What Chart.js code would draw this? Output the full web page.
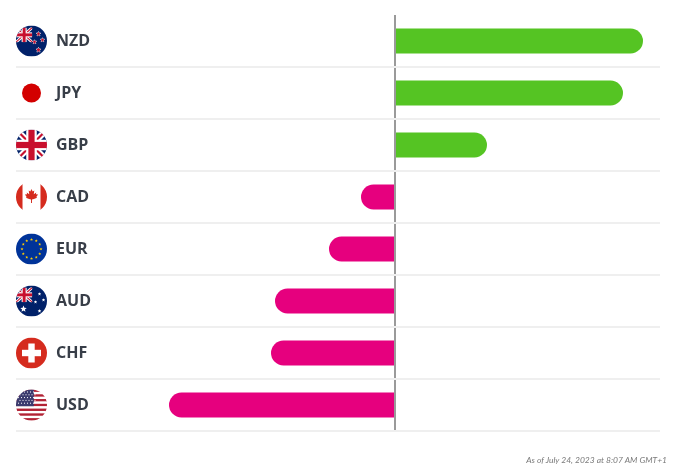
<!DOCTYPE html>
<html lang="en">
<head>
    <meta charset="UTF-8">
    <meta name="viewport" content="width=device-width, initial-scale=1.0">
    <title>Currency strength</title>
    <script src="https://cdn.jsdelivr.net/npm/chart.js"></script>
    <style>
        body { margin: 0; background: #fff; }
        #wrap { position: relative; width: 680px; height: 471px; }
        #nota {
            position: absolute; right: 13px; top: 455px;
            font-family: Lato, "Open Sans", sans-serif; font-style: italic;
            font-size: 8.5px; color: #7a7a7a;
        }
    </style>
</head>
<body>
    <div id="wrap">
        <canvas id="grafico"></canvas>
        <div id="nota">As of July 24, 2023 at 8:07 AM GMT+1</div>
    </div>

    <script>
        // Dados (valores estimados pelo comprimento das barras)
        const moedas = ['NZD', 'JPY', 'GBP', 'CAD', 'EUR', 'AUD', 'CHF', 'USD'];
        const forca = [0.62, 0.57, 0.23, -0.085, -0.165, -0.30, -0.31, -0.565];
        const eixoMin = -0.9475;
        const eixoMax = 0.6625;

        const verde = '#55c423';
        const rosa = '#e6007e';

        // estrela de 5 pontas
        function estrela(ctx, x, y, r1, r2, cor, borda) {
            ctx.beginPath();
            for (let i = 0; i < 10; i++) {
                const r = i % 2 === 0 ? r1 : r2;
                const a = -Math.PI / 2 + i * Math.PI / 5;
                ctx.lineTo(x + r * Math.cos(a), y + r * Math.sin(a));
            }
            ctx.closePath();
            if (borda) { ctx.strokeStyle = borda; ctx.lineWidth = 0.8; ctx.stroke(); }
            ctx.fillStyle = cor;
            ctx.fill();
        }

        // bandeira do Reino Unido num retângulo
        function unionJack(ctx, x, y, w, h) {
            ctx.save();
            ctx.beginPath();
            ctx.rect(x, y, w, h);
            ctx.clip();
            ctx.fillStyle = '#012169';
            ctx.fillRect(x, y, w, h);
            ctx.beginPath();
            ctx.moveTo(x, y); ctx.lineTo(x + w, y + h);
            ctx.moveTo(x + w, y); ctx.lineTo(x, y + h);
            ctx.strokeStyle = '#fff'; ctx.lineWidth = h * 0.2; ctx.stroke();
            ctx.strokeStyle = '#c8102e'; ctx.lineWidth = h * 0.07; ctx.stroke();
            ctx.fillStyle = '#fff';
            ctx.fillRect(x + w / 2 - h * 0.17, y, h * 0.34, h);
            ctx.fillRect(x, y + h / 2 - h * 0.17, w, h * 0.34);
            ctx.fillStyle = '#c8102e';
            ctx.fillRect(x + w / 2 - h * 0.1, y, h * 0.2, h);
            ctx.fillRect(x, y + h / 2 - h * 0.1, w, h * 0.2);
            ctx.restore();
        }

        const folha = [[0, -1], [0.15, -0.7], [0.35, -0.8], [0.28, -0.35], [0.6, -0.55], [0.55, -0.35], [0.82, -0.3],
            [0.6, 0], [0.7, 0.1], [0.3, 0.25], [0.06, 0.3], [0.06, 0.75], [-0.06, 0.75], [-0.06, 0.3], [-0.3, 0.25],
            [-0.7, 0.1], [-0.6, 0], [-0.82, -0.3], [-0.55, -0.35], [-0.6, -0.55], [-0.28, -0.35], [-0.35, -0.8], [-0.15, -0.7]];

        const bandeiras = {
            NZD(ctx, cx, cy, r) {
                ctx.fillStyle = '#012169'; ctx.fillRect(cx - r, cy - r, 2 * r, 2 * r);
                unionJack(ctx, cx - r, cy - r + 2, r * 1.05, r * 0.95);
                estrela(ctx, cx + 7, cy - 7, 2.4, 1, '#c8102e', '#fff');
                estrela(ctx, cx + 11, cy - 1, 2.2, 0.9, '#c8102e', '#fff');
                estrela(ctx, cx + 3, cy + 1, 2.2, 0.9, '#c8102e', '#fff');
                estrela(ctx, cx + 7, cy + 9, 2.6, 1.1, '#c8102e', '#fff');
            },
            JPY(ctx, cx, cy, r) {
                ctx.fillStyle = '#fff'; ctx.fillRect(cx - r, cy - r, 2 * r, 2 * r);
                ctx.beginPath(); ctx.arc(cx, cy, 9.5, 0, Math.PI * 2);
                ctx.fillStyle = '#d30000'; ctx.fill();
            },
            GBP(ctx, cx, cy, r) {
                unionJack(ctx, cx - r, cy - r, 2 * r, 2 * r);
            },
            CAD(ctx, cx, cy, r) {
                ctx.fillStyle = '#fff'; ctx.fillRect(cx - r, cy - r, 2 * r, 2 * r);
                ctx.fillStyle = '#d52b1e';
                ctx.fillRect(cx - r, cy - r, r * 0.42, 2 * r);
                ctx.fillRect(cx + r * 0.58, cy - r, r * 0.42, 2 * r);
                ctx.beginPath();
                folha.forEach(p => ctx.lineTo(cx + p[0] * 8, cy + p[1] * 8));
                ctx.closePath(); ctx.fill();
            },
            EUR(ctx, cx, cy, r) {
                ctx.fillStyle = '#003399'; ctx.fillRect(cx - r, cy - r, 2 * r, 2 * r);
                for (let i = 0; i < 12; i++) {
                    const a = i * Math.PI / 6;
                    estrela(ctx, cx + 9.5 * Math.cos(a), cy + 9.5 * Math.sin(a), 1.6, 0.7, '#ffcc00');
                }
            },
            AUD(ctx, cx, cy, r) {
                ctx.fillStyle = '#012169'; ctx.fillRect(cx - r, cy - r, 2 * r, 2 * r);
                unionJack(ctx, cx - r, cy - r + 2, r * 1.05, r * 0.95);
                estrela(ctx, cx - 8, cy + 8, 3.4, 1.5, '#fff');
                estrela(ctx, cx + 8, cy - 7, 1.8, 0.8, '#fff');
                estrela(ctx, cx + 12, cy - 1, 1.8, 0.8, '#fff');
                estrela(ctx, cx + 4, cy + 1, 1.8, 0.8, '#fff');
                estrela(ctx, cx + 8, cy + 10, 2, 0.9, '#fff');
            },
            CHF(ctx, cx, cy, r) {
                ctx.fillStyle = '#d52b1e'; ctx.fillRect(cx - r, cy - r, 2 * r, 2 * r);
                ctx.fillStyle = '#fff';
                ctx.fillRect(cx - 3.2, cy - 9.5, 6.4, 19);
                ctx.fillRect(cx - 9.5, cy - 3.2, 19, 6.4);
            },
            USD(ctx, cx, cy, r) {
                const faixa = 2 * r / 13;
                for (let i = 0; i < 13; i++) {
                    ctx.fillStyle = i % 2 === 0 ? '#b22234' : '#fff';
                    ctx.fillRect(cx - r, cy - r + i * faixa, 2 * r, faixa + 0.3);
                }
                ctx.fillStyle = '#3c3b6e';
                ctx.fillRect(cx - r, cy - r, r * 1.15, faixa * 7);
                ctx.fillStyle = '#fff';
                for (let j = 0; j < 5; j++) {
                    for (let i = 0; i < 6; i++) {
                        ctx.fillRect(cx - r + 2 + i * 3 + (j % 2) * 1.5, cy - r + 2 + j * 2.8, 1, 1);
                    }
                }
            }
        };

        const pluginBandeiras = {
            id: 'bandeiras',
            afterDraw(chart) {
                const ctx = chart.ctx;
                const escalaY = chart.scales.y;
                const cx = 31.5, r = 15.5;
                moedas.forEach((m, i) => {
                    const cy = escalaY.getPixelForTick(i);
                    ctx.save();
                    ctx.beginPath();
                    ctx.arc(cx, cy, r, 0, Math.PI * 2);
                    ctx.clip();
                    bandeiras[m](ctx, cx, cy, r);
                    ctx.restore();
                });
            }
        };

        const ctx = document.getElementById('grafico').getContext('2d');
        new Chart(ctx, {
            type: 'bar',
            data: {
                labels: moedas,
                datasets: [{
                    data: forca,
                    backgroundColor: forca.map(v => v >= 0 ? verde : rosa),
                    borderRadius: 13,
                    borderSkipped: 'start',
                    barPercentage: 0.48,
                    categoryPercentage: 1
                }]
            },
            options: {
                indexAxis: 'y',
                responsive: true,
                maintainAspectRatio: false,
                animation: false,
                layout: { padding: { left: 16, right: 20, top: 15, bottom: 40 } },
                plugins: {
                    legend: { display: false },
                    tooltip: { enabled: false }
                },
                scales: {
                    x: {
                        min: eixoMin,
                        max: eixoMax,
                        z: 1,
                        afterBuildTicks: (escala) => { escala.ticks = [{ value: 0 }]; },
                        ticks: { display: false },
                        border: { display: false },
                        grid: { color: '#9a9a9a', lineWidth: 2, drawTicks: false }
                    },
                    y: {
                        afterFit: (escala) => {
                            escala.width = 0;
                            escala.paddingTop = 0;
                            escala.paddingBottom = 0;
                        },
                        ticks: {
                            mirror: true,
                            padding: 40,
                            color: '#383e48',
                            font: { family: '"Open Sans", sans-serif', size: 16, weight: 'bold' }
                        },
                        border: { display: false },
                        grid: {
                            drawTicks: false,
                            lineWidth: 2,
                            color: (c) => c.index === 0 ? 'rgba(0,0,0,0)' : '#efefef'
                        }
                    }
                }
            },
            plugins: [pluginBandeiras]
        });
    </script>
</body>
</html>
